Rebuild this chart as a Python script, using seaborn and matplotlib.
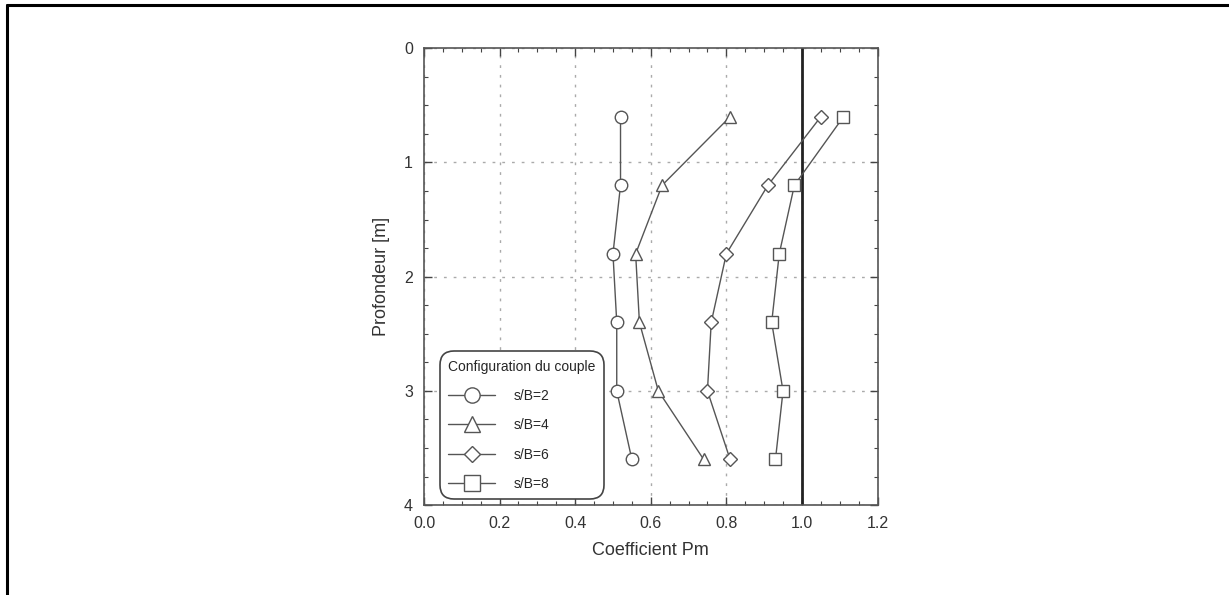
import matplotlib
matplotlib.use("Agg")
import matplotlib.pyplot as plt
import seaborn as sns
import pandas as pd
from matplotlib.ticker import MultipleLocator
from matplotlib.lines import Line2D

# depths (m) and Pm coefficient for each couple configuration
depth = [0.6, 1.2, 1.8, 2.4, 3.0, 3.6]
pm_sb2 = [0.52, 0.52, 0.50, 0.51, 0.51, 0.55]
pm_sb4 = [0.81, 0.63, 0.56, 0.57, 0.62, 0.74]
pm_sb6 = [1.05, 0.91, 0.80, 0.76, 0.75, 0.81]
pm_sb8 = [1.11, 0.98, 0.94, 0.92, 0.95, 0.93]
labels = ["s/B=2", "s/B=4", "s/B=6", "s/B=8"]
markers = ["o", "^", "D", "s"]

sns.set_theme(style="white")
plt.rcParams['font.family'] = ['Liberation Sans', 'DejaVu Sans']

fig = plt.figure(figsize=(12.29, 5.95), dpi=100)
ax = fig.add_axes([0.345, 0.151, 0.369, 0.768])

series = [pm_sb2, pm_sb4, pm_sb6, pm_sb8]
for vals, lab, mk in zip(series, labels, markers):
    df = pd.DataFrame({"Pm": vals, "Depth": depth})
    ms = 7 if mk == "D" else 9
    sns.lineplot(data=df, x="Pm", y="Depth", sort=False, estimator=None, ax=ax,
                 color="#555555", lw=1.0, marker=mk, markersize=ms,
                 markerfacecolor="white", markeredgecolor="#555555",
                 markeredgewidth=1.0, label=lab)

ax.axvline(1.0, color="#222222", lw=2.0, zorder=1)

ax.set_xlim(0, 1.2)
ax.set_ylim(4, 0)
ax.xaxis.set_minor_locator(MultipleLocator(0.05))
ax.yaxis.set_major_locator(MultipleLocator(1))
ax.yaxis.set_minor_locator(MultipleLocator(0.25))
ax.set_xticks([0, 0.2, 0.4, 0.6, 0.8, 1.0, 1.2])
ax.set_xticklabels(["0.0", "0.2", "0.4", "0.6", "0.8", "1.0", "1.2"])
ax.tick_params(which="both", direction="in", top=True, right=True, bottom=True, left=True,
               colors="#444444", labelcolor="#333333", labelsize=11.5)
ax.tick_params(which="major", length=6, width=1.0, pad=8)
ax.tick_params(which="minor", length=3, width=0.8)
ax.grid(True, which="major", color="#aaaaaa", linestyle=(0, (2, 5)), lw=1.0)
for sp in ax.spines.values():
    sp.set_color("#555555")
    sp.set_linewidth(1.2)

ax.set_xlabel("Coefficient Pm", fontsize=13, color="#333333", labelpad=8)
ax.set_ylabel("Profondeur [m]", fontsize=13, color="#333333", labelpad=10)

handles = [Line2D([], [], color="#555555", lw=1.0, marker=mk, markersize=(11 if mk != "D" else 8),
                  markerfacecolor="white", markeredgecolor="#555555") for mk in markers]
leg = ax.legend(handles, labels, title="Configuration du couple", loc="lower left",
                bbox_to_anchor=(0.035, 0.013), borderaxespad=0, fontsize=10, title_fontsize=10,
                handlelength=3.4, labelspacing=1.1, borderpad=0.6, handletextpad=1.3,
                frameon=True, fancybox=True, edgecolor="#444444", framealpha=1)
leg._legend_box.align = "left"
leg.get_frame().set_linewidth(1.2)
leg.get_frame().set_boxstyle("round", pad=0, rounding_size=1.0)

# outer border (left and top)
fig.add_artist(Line2D([0.006, 0.006], [0, 0.992], transform=fig.transFigure, color="black", lw=2.2))
fig.add_artist(Line2D([0.006, 1.0], [0.992, 0.992], transform=fig.transFigure, color="black", lw=2.2))

fig.savefig("out.png", dpi=100)
